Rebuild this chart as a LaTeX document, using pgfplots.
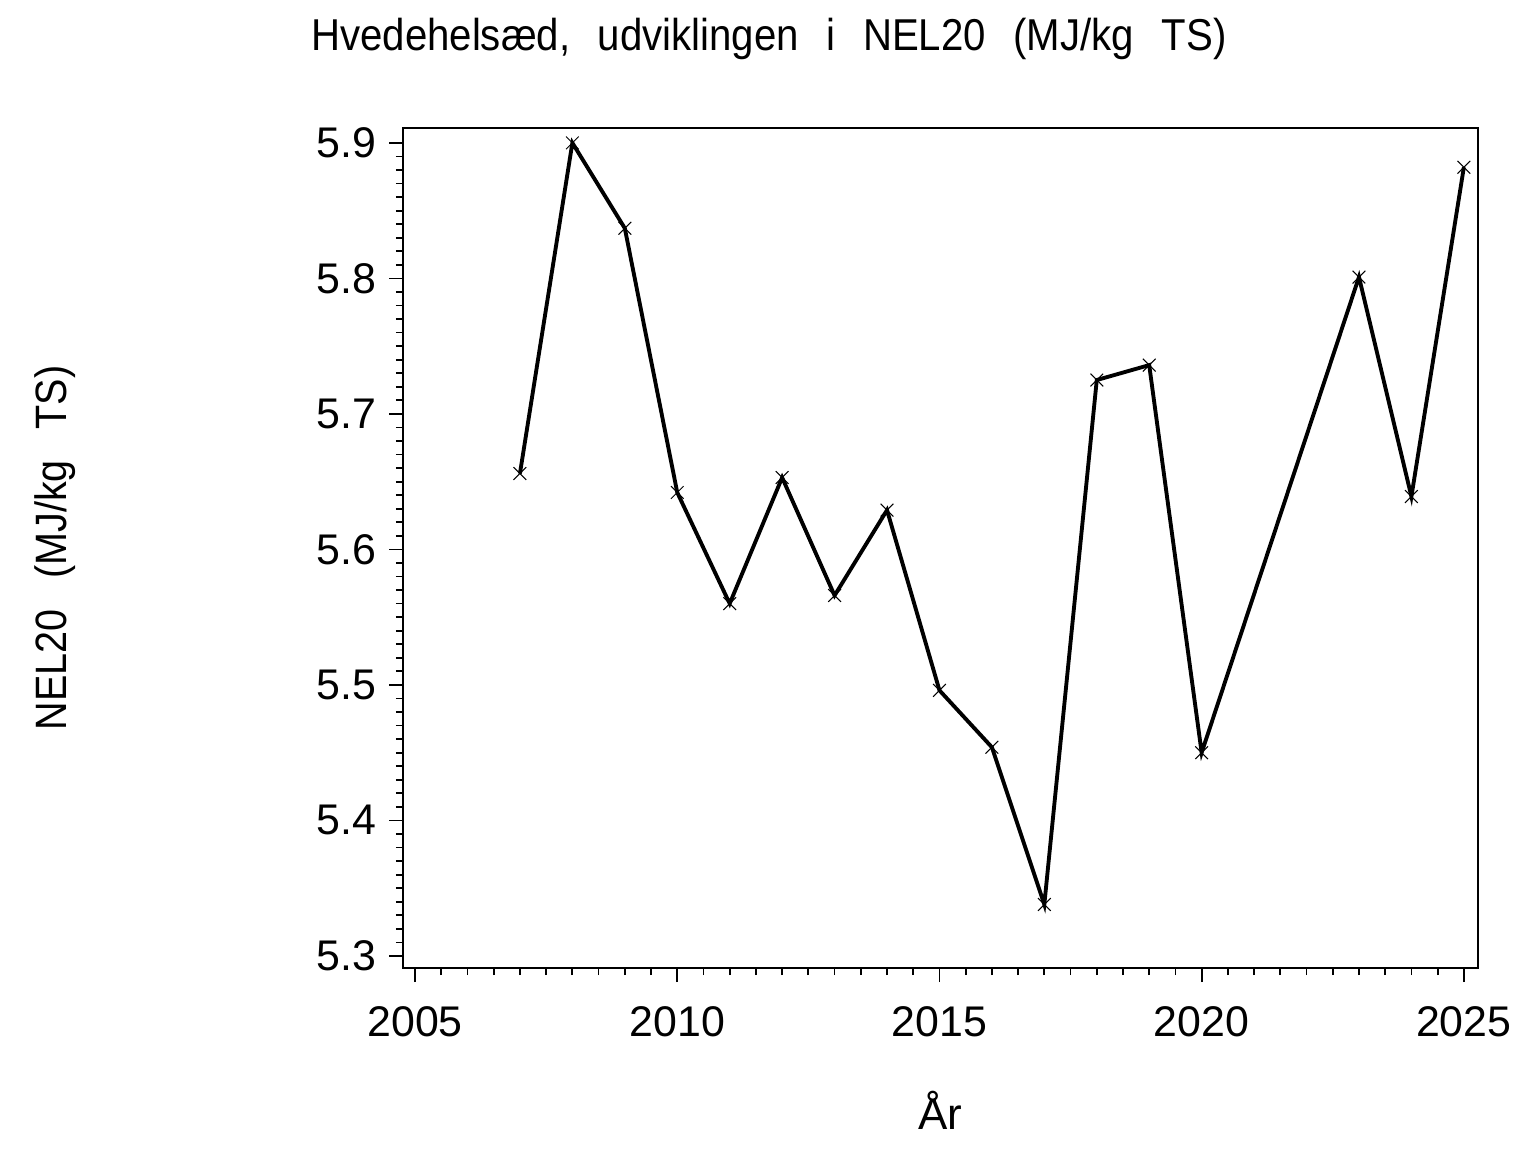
\documentclass[border=0pt]{standalone}
\usepackage{fontspec}
\setmainfont{Liberation Sans}
\newfontfamily\condfont[FakeStretch=0.9]{Liberation Sans}
\usepackage{pgfplots}
\pgfplotsset{compat=1.18}
\newcommand{\gap}{\hspace{0.62em}}
\begin{document}
\begin{tikzpicture}[x=1mm,y=1mm]
\begin{axis}[
  at={(0,0)}, anchor=south west,
  scale only axis,
  width=107.5mm, height=84mm,
  xmin=2004.77, xmax=2025.27,
  ymin=5.2911, ymax=5.911,
  xtick={2005,2010,2015,2020,2025},
  ytick={5.3,5.4,5.5,5.6,5.7,5.8,5.9},
  minor x tick num=9,
  minor y tick num=9,
  tick align=outside,
  major tick length=1.4mm,
  minor tick length=0.7mm,
  tick style={black, line width=0.5pt},
  xtick pos=bottom, ytick pos=left,
  axis line style={line width=0.6pt},
  /pgf/number format/assume math mode=true,
  xticklabel={\pgfmathprintnumber[1000 sep={},fixed]{\tick}},
  yticklabel={\pgfmathprintnumber[fixed,precision=1,fixed zerofill]{\tick}},
  xticklabel style={font=\fontsize{12.2}{14}\selectfont, yshift=-1.2mm},
  yticklabel style={font=\fontsize{12.2}{14}\selectfont, xshift=0mm},
]
\addplot[black, line width=1.1pt, mark=x, mark size=0.9mm, mark options={line width=0.3pt}] coordinates {
(2007,5.656) (2008,5.900) (2009,5.837) (2010,5.642) (2011,5.560)
(2012,5.653) (2013,5.566) (2014,5.629) (2015,5.496) (2016,5.454)
(2017,5.338) (2018,5.725) (2019,5.736) (2020,5.450) (2023,5.801)
(2024,5.639) (2025,5.882)
};
\end{axis}
\node[font=\condfont\fontsize{12.7}{14}\selectfont] at (36.6,92.9) {Hvedehelsæd,\gap udviklingen\gap i\gap NEL20\gap (MJ/kg\gap TS)};
\node[font=\condfont\fontsize{12.5}{14}\selectfont, rotate=90] at (-34.8,42) {NEL20\hspace{0.7em}(MJ/kg\hspace{0.7em}TS)};
\node[font=\fontsize{12.5}{14}\selectfont] at (53.75,-14.2) {År};
\useasboundingbox (-40.3,-18.4) rectangle (113.3,96.8);
\end{tikzpicture}
\end{document}
